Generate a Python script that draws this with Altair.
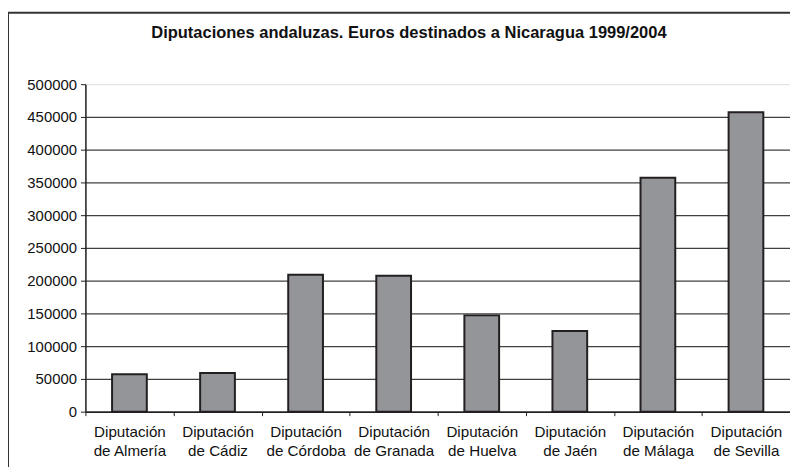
import altair as alt
import pandas as pd

categories = [
    "Diputación de Almería",
    "Diputación de Cádiz",
    "Diputación de Córdoba",
    "Diputación de Granada",
    "Diputación de Huelva",
    "Diputación de Jaén",
    "Diputación de Málaga",
    "Diputación de Sevilla",
]
euros = [57000, 59000, 209000, 207500, 147000, 123000, 357000, 457000]
y_ticks = [0, 50000, 100000, 150000, 200000, 250000, 300000, 350000, 400000, 450000, 500000]
title_text = "Diputaciones andaluzas. Euros destinados a Nicaragua 1999/2004"

df = pd.DataFrame({"diputacion": categories, "euros": euros})

FONT = "Liberation Sans"
DARK = "#231f20"
TEXT = "#111111"

bars = alt.Chart(df).mark_bar(
    size=35, color="#939598", stroke=DARK, strokeWidth=2
).encode(
    x=alt.X(
        "diputacion:N",
        sort=categories,
        scale=alt.Scale(paddingInner=0, paddingOuter=0),
        axis=alt.Axis(
            title=None,
            labelAngle=0,
            labelExpr="[slice(datum.label, 0, 10), slice(datum.label, 11)]",
            labelLineHeight=19.5,
            labelPadding=9,
            labelFontSize=15.3,
            labelFont=FONT,
            labelColor=TEXT,
            tickBand="extent",
            tickSize=4,
            tickColor=DARK,
            domainColor=DARK,
            domainWidth=1.5,
            grid=False,
        ),
    ),
    y=alt.Y(
        "euros:Q",
        scale=alt.Scale(domain=[0, 500000], nice=False),
        axis=alt.Axis(
            title=None,
            values=y_ticks,
            format="d",
            labelFontSize=15,
            labelFont=FONT,
            labelColor=TEXT,
            labelPadding=4,
            tickSize=5,
            tickColor=DARK,
            domainColor=DARK,
            domainWidth=1.5,
            grid=True,
            gridColor="#404040",
            gridWidth=1.2,
            gridOpacity={"condition": {"test": "datum.value >= 500000", "value": 0}, "value": 1},
        ),
    ),
)

frame_data = alt.Data(values=[{"k": 1}])
left_line = alt.Chart(frame_data).mark_rule(color="#333333", strokeWidth=2).encode(
    x=alt.value(-78), y=alt.value(-72), y2=alt.value(400)
)
top_line = alt.Chart(frame_data).mark_rule(color="#333333", strokeWidth=2).encode(
    x=alt.value(-78), x2=alt.value(720), y=alt.value(-72)
)

chart = alt.layer(bars, left_line, top_line).properties(
    width=710,
    height=330,
    autosize=alt.AutoSizeParams(type="none"),
    padding={"left": 78, "top": 75, "right": 0, "bottom": 54},
    title=alt.TitleParams(
        text=title_text,
        font=FONT,
        fontSize=16.6,
        fontWeight="bold",
        color=TEXT,
        anchor="middle",
        frame="group",
        baseline="alphabetic",
        dx=-29,
        dy=47,
    ),
).configure_view(fill="#e6e7e8", stroke=None).configure(background="white")

chart.save("out.html", embed_options={"renderer": "svg", "actions": False})
